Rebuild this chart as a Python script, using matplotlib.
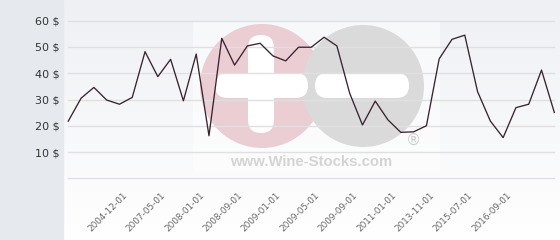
import numpy as np
import matplotlib
matplotlib.use('Agg')
import matplotlib.pyplot as plt
from matplotlib.patches import Circle, FancyBboxPatch, Rectangle
from matplotlib.transforms import ScaledTranslation
from matplotlib.colors import LinearSegmentedColormap

# ---- data ----
prices = [21.8, 30.5, 34.6, 29.8, 28.2, 30.8, 48.2, 38.7, 45.3, 29.5,
          47.3, 16.2, 53.3, 43.1, 50.4, 51.4, 46.6, 44.7, 49.9, 49.9,
          53.7, 50.4, 32.4, 20.3, 29.4, 22.2, 17.5, 17.7, 20.0, 45.5,
          52.9, 54.5, 33.0, 21.8, 15.5, 26.9, 28.2, 41.2, 25.1]
date_labels = ['2004-12-01', '2007-05-01', '2008-01-01', '2008-09-01',
               '2009-01-01', '2009-05-01', '2009-09-01', '2011-01-01',
               '2013-11-01', '2015-07-01', '2016-09-01']
label_idx = [4, 7, 10, 13, 16, 19, 22, 25, 28, 31, 34]
y_ticks = [0, 10, 20, 30, 40, 50, 60]
y_tick_labels = ['', '10 $', '20 $', '30 $', '40 $', '50 $', '60 $']

W, H = 560, 240
fig = plt.figure(figsize=(W / 100, H / 100), dpi=100)

# ---- background layer in pixel coords ----
bg = fig.add_axes([0, 0, 1, 1], zorder=0)
bg.set_xlim(0, W)
bg.set_ylim(H, 0)
bg.axis('off')
cmap = LinearSegmentedColormap.from_list('g', ['#eef0f4', '#ffffff'])
grad = np.linspace(0, 1, 256).reshape(-1, 1)
bg.imshow(grad, cmap=cmap, extent=[63, W, H, 0], aspect='auto', zorder=0)
bg.add_patch(Rectangle((0, 0), 63, H, color='#e6eaee', zorder=1))

# watermark
bg.add_patch(Rectangle((193, 22), 247, 150, color='white', alpha=0.5, lw=0, zorder=1))
bg.add_patch(Circle((262, 86), 62, color='#ebcdd4', lw=0, zorder=2))
bg.add_patch(Circle((363, 86), 61, color='#dadada', lw=0, zorder=3))
for (x0, y0, w, h) in [(215, 73, 93, 25), (248, 35, 26, 98), (315, 73, 94, 25)]:
    r = min(w, h) / 2
    bg.add_patch(FancyBboxPatch((x0 + r, y0 + r), w - 2 * r, h - 2 * r,
                                boxstyle=f'round,pad={r}', color='white', lw=0, zorder=4))
bg.text(311, 162, 'www.Wine-Stocks.com', ha='center', va='center', fontsize=10.7,
        fontweight='bold', color='#d4d4d4', family='Liberation Sans', zorder=5)
bg.text(413, 140, '®', ha='center', va='center', fontsize=11, color='#cfcfcf',
        family='DejaVu Sans', zorder=5)

# ---- main axes ----
left_px, right_px = 68.3, 554.3
bot_px, top_px = 178.3, 20.7
ax = fig.add_axes([left_px / W, 1 - bot_px / H, (right_px - left_px) / W, (bot_px - top_px) / H],
                  zorder=1)
ax.set_facecolor('none')
x = np.arange(len(prices))
ax.plot(x, prices, color='#3a2330', lw=0.95, clip_on=False, zorder=3)
ax.set_xlim(0, len(prices) - 1)
ax.set_ylim(0, 60)
for s in ax.spines.values():
    s.set_visible(False)
ax.set_yticks(y_ticks)
ax.set_yticklabels(y_tick_labels)
ax.yaxis.grid(True, color='#e0e0e0', lw=1.0)
for gl in ax.get_ygridlines():
    gl.set_clip_on(False)
ax.set_axisbelow(True)
ax.tick_params(axis='y', length=0, pad=6.5, labelsize=8, labelcolor='#333333')
ax.set_xticks(label_idx)
ax.set_xticklabels(date_labels, rotation=45, ha='right', va='center',
                   rotation_mode='anchor', fontsize=6.4, color='#6a6a6a')
ax.tick_params(axis='x', length=0, pad=11)
off = ScaledTranslation(0.065, 0, fig.dpi_scale_trans)
for lbl in ax.get_xticklabels():
    lbl.set_transform(lbl.get_transform() + off)

fig.savefig('out.png', dpi=100)
